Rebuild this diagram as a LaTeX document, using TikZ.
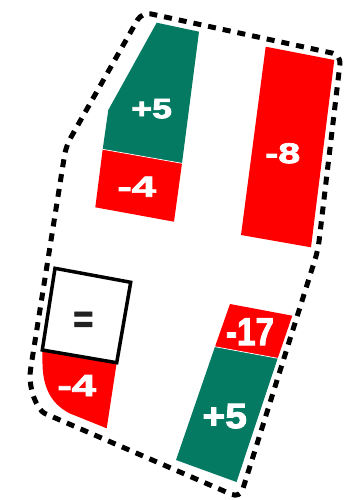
\documentclass[tikz,border=0pt]{standalone}
\usepackage{fontspec}
\setmainfont{Liberation Sans}[BoldFeatures={FakeBold=2.5}]
\usepackage{graphicx}
\definecolor{tealg}{HTML}{047A63}
\definecolor{redc}{HTML}{FF0000}
\definecolor{eqgray}{HTML}{222222}
\tikzset{
  border/.style={line width=5pt, dash pattern=on 8pt off 7pt, rounded corners=9pt},
  greenpiece/.style={fill=tealg},
  redpiece/.style={fill=redc},
  seam/.style={draw=white, line width=0.7pt},
  eqbox/.style={draw=black, line width=3.5pt, line join=miter},
  lbl/.style={inner sep=0pt, text=white, font=\bfseries},
}
\newcommand\fitlbl[3]{\resizebox{#1pt}{#2pt}{#3}}
\begin{document}
\begin{tikzpicture}[x=1pt,y=-1pt]
\useasboundingbox (0,0) rectangle (351,500);
% pieces
\fill[greenpiece] (156.7,22.7) -- (199,31.7) -- (182,163.3) -- (102.7,149.3) -- (108.3,110) -- cycle;
\fill[redpiece] (102.7,149.3) -- (182,163.3) -- (174,221.7) -- (95.3,207.3) -- cycle;
\draw[seam] (102.7,149.3) -- (182,163.3);
\fill[redpiece] (265.7,46.7) -- (334.3,60) -- (311,247.3) -- (241,235) -- cycle;
\fill[redpiece] (230,304) -- (292.3,315.7) -- (277.7,358.3) -- (215,346.7) -- cycle;
\fill[greenpiece] (215,346.7) -- (277.7,358.3) -- (236.5,482) -- (176,460) -- cycle;
\draw[seam] (215,346.7) -- (277.7,358.3);
\fill[redpiece] (42.3,350) -- (42.5,364) .. controls (43,390) and (53,405) .. (70,413.5) -- (106.7,428.3) -- (116.7,362.7) -- cycle;
\draw[eqbox] (55,268.3) -- (130.7,282.3) -- (116.7,362.7) -- (42.3,350) -- cycle;
% dashed outline
\draw[border] (66,146) -- (142,12) -- (341,55) -- (318,250) -- (240,498) -- (53,417)
  .. controls (38,410.5) and (27.5,389) .. (32,360) -- cycle;
% labels
\node[lbl] (p5a) at (151.7,108.7) {\fitlbl{40.5}{19.3}{+5}};
\node[lbl] (m4a) at (136.7,186.7) {\fitlbl{38.5}{20}{-4}};
\node[lbl] (m8) at (282.7,153.3) {\fitlbl{35}{20}{-8}};
\node[lbl] (m17) at (250,331.7) {\fitlbl{48}{26.7}{-17}};
\node[lbl] (p5b) at (224.7,416.2) {\fitlbl{44.5}{24.3}{+5}};
\node[lbl] (m4b) at (76.7,385.5) {\fitlbl{38.5}{21}{-4}};
\node[lbl, text=eqgray] (eq) at (83.3,322) {\fitlbl{20}{20}{=}};
\end{tikzpicture}
\end{document}
